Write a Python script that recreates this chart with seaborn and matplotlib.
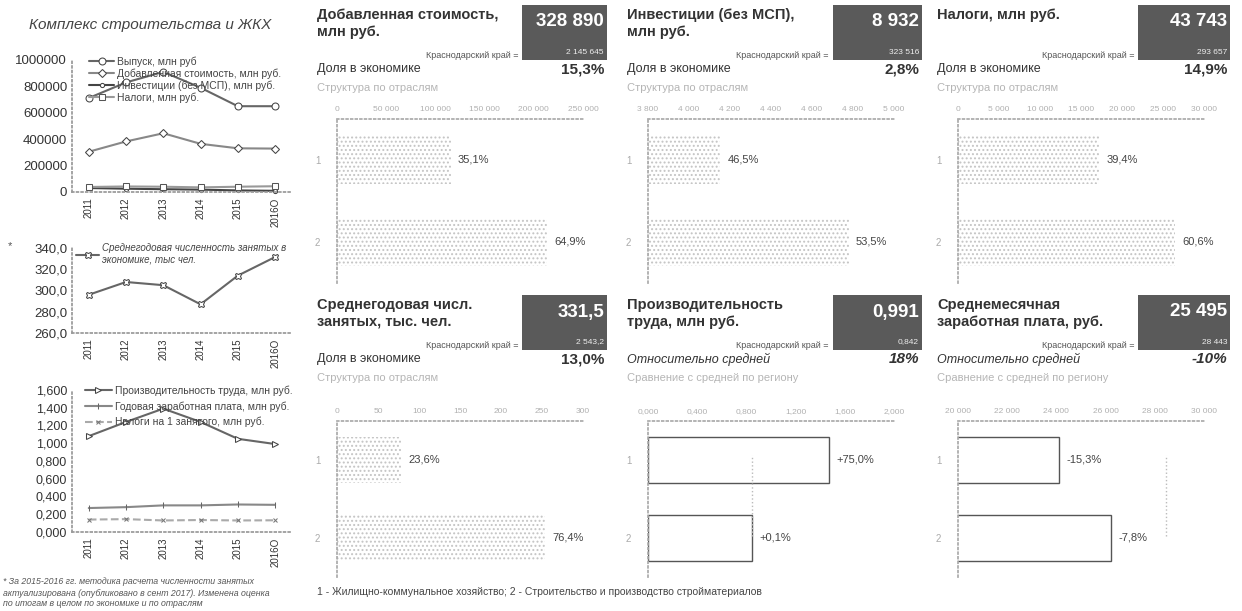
import matplotlib
matplotlib.use("Agg")
import matplotlib.pyplot as plt
import seaborn as sns
from matplotlib.patches import Rectangle
from matplotlib.ticker import FuncFormatter

sns.set_theme(style="white")
plt.rcParams["font.family"] = ["Liberation Sans", "DejaVu Sans"]
plt.rcParams["hatch.color"] = "#c4c4c4"
plt.rcParams["hatch.linewidth"] = 0.9

# ---- data ----
years = ["2011", "2012", "2013", "2014", "2015", "2016О"]

output_mln = [712000, 830000, 910000, 790000, 650000, 650000]
value_added_mln = [305000, 383000, 445000, 365000, 331000, 328890]
investments_mln = [30000, 25000, 21000, 18000, 12000, 8932]
taxes_mln = [38000, 42000, 40000, 35000, 40000, 43743]

employed_ths = [296.0, 308.0, 305.0, 287.0, 314.0, 331.5]

productivity = [1.08, 1.24, 1.39, 1.24, 1.05, 0.991]
annual_wage = [0.27, 0.28, 0.30, 0.30, 0.31, 0.306]
taxes_per_worker = [0.140, 0.145, 0.130, 0.135, 0.130, 0.132]

panel_titles = ["Добавленная стоимость,\nмлн руб.", "Инвестиции (без МСП),\nмлн руб.",
                "Налоги, млн руб.", "Среднегодовая числ.\nзанятых, тыс. чел.",
                "Производительность\nтруда, млн руб.", "Среднемесячная\nзаработная плата, руб."]
big_values = ["328 890", "8 932", "43 743", "331,5", "0,991", "25 495"]
region_values = ["2 145 645", "323 516", "293 657", "2 543,2", "0,842", "28 443"]
headline_labels = ["Доля в экономике", "Доля в экономике", "Доля в экономике",
                   "Доля в экономике", "Относительно средней", "Относительно средней"]
headline_values = ["15,3%", "2,8%", "14,9%", "13,0%", "18%", "-10%"]
sub_labels = ["Структура по отраслям", "Структура по отраслям", "Структура по отраслям",
              "Структура по отраслям", "Сравнение с средней по региону",
              "Сравнение с средней по региону"]

branches = ["1", "2"]
share_totals = [328890, 8932, 43743, 331.5]
shares = [[35.1, 64.9], [46.5, 53.5], [39.4, 60.6], [23.6, 76.4]]
region_avg = [0.842, 28443]
relative = [[75.0, 0.1], [-15.3, -7.8]]

# ---- layout helpers (pixel coordinates) ----
W, H = 1242, 611
fig = plt.figure(figsize=(W / 100, H / 100), dpi=100)


def rect(x, y, w, h):
    return [x / W, 1 - (y + h) / H, w / W, h / H]


def ftext(x, y, s, **kw):
    fig.text(x / W, 1 - y / H, s, **kw)


def style_left(ax):
    sns.despine(ax=ax)
    for side in ["left", "bottom"]:
        ax.spines[side].set_linestyle(":")
        ax.spines[side].set_color("#999999")
    ax.tick_params(axis="both", length=0, colors="#333333")
    ax.tick_params(axis="x", rotation=90, labelsize=7, pad=4)
    ax.set_xlim(-0.45, 5.4)
    ax.set_xlabel("")
    ax.set_ylabel("")


# ---- left column ----
ftext(150, 25, "Комплекс строительства и ЖКХ", fontsize=11, style="italic",
      color="#444444", ha="center", va="center")

ax1 = fig.add_axes(rect(72, 60, 218, 132))
sns.lineplot(x=years, y=output_mln, ax=ax1, color="#666666", marker="o", markersize=5,
             markerfacecolor="white", markeredgecolor="#444444", label="Выпуск, млн руб", clip_on=False)
sns.lineplot(x=years, y=value_added_mln, ax=ax1, color="#888888", marker="D", markersize=4.5,
             markerfacecolor="white", markeredgecolor="#444444",
             label="Добавленная стоимость, млн руб.", clip_on=False)
sns.lineplot(x=years, y=investments_mln, ax=ax1, color="#444444", marker="o", markersize=3,
             markerfacecolor="white", markeredgecolor="#444444",
             label="Инвестиции (без МСП), млн руб.", clip_on=False)
sns.lineplot(x=years, y=taxes_mln, ax=ax1, color="#999999", marker="s", markersize=4.5,
             markerfacecolor="white", markeredgecolor="#555555", label="Налоги, млн руб.", clip_on=False)
ax1.set_ylim(0, 1000000)
ax1.set_yticks([0, 200000, 400000, 600000, 800000, 1000000])
ax1.yaxis.set_major_formatter(FuncFormatter(lambda v, p: f"{v:.0f}"))
ax1.tick_params(axis="y", labelsize=9.5)
style_left(ax1)
ax1.legend(loc="upper left", bbox_to_anchor=(0.06, 1.06), frameon=False, fontsize=7.5,
           handlelength=2.4, labelspacing=0.15, handletextpad=0.3, borderaxespad=0,
           labelcolor="#444444")

ftext(8, 246, "*", fontsize=8, color="#555555", va="center")
ax2 = fig.add_axes(rect(72, 248, 218, 85))
sns.lineplot(x=years, y=employed_ths, ax=ax2, color="#666666", marker="X", markersize=5,
             markerfacecolor="white", markeredgecolor="#444444",
             label="Среднегодовая численность занятых в\nэкономике, тыс чел.", clip_on=False)
ax2.set_ylim(260, 340)
ax2.set_yticks([260, 280, 300, 320, 340])
ax2.yaxis.set_major_formatter(FuncFormatter(lambda v, p: f"{v:.1f}".replace(".", ",")))
ax2.tick_params(axis="y", labelsize=9.5)
style_left(ax2)
leg2 = ax2.legend(loc="upper left", bbox_to_anchor=(0.0, 1.1), frameon=False, fontsize=7,
                  handlelength=2.4, handletextpad=0.3, borderaxespad=0, labelcolor="#444444")
for t in leg2.get_texts():
    t.set_style("italic")

ax3 = fig.add_axes(rect(72, 390, 218, 142))
sns.lineplot(x=years, y=productivity, ax=ax3, color="#666666", marker=">", markersize=4,
             markerfacecolor="white", markeredgecolor="#444444",
             label="Производительность труда, млн руб.", clip_on=False)
sns.lineplot(x=years, y=annual_wage, ax=ax3, color="#888888", marker="|", markersize=4,
             markeredgecolor="#666666", label="Годовая заработная плата, млн руб.", clip_on=False)
sns.lineplot(x=years, y=taxes_per_worker, ax=ax3, color="#aaaaaa", marker="x", markersize=3,
             linestyle="--", markeredgecolor="#777777",
             label="Налоги на 1 занятого, млн руб.", clip_on=False)
ax3.set_ylim(0, 1.6)
ax3.set_yticks([0, 0.2, 0.4, 0.6, 0.8, 1.0, 1.2, 1.4, 1.6])
ax3.yaxis.set_major_formatter(FuncFormatter(lambda v, p: f"{v:.3f}".replace(".", ",")))
ax3.tick_params(axis="y", labelsize=9)
style_left(ax3)
ax3.legend(loc="upper left", bbox_to_anchor=(0.04, 1.06), frameon=False, fontsize=7.5,
           handlelength=2.6, labelspacing=0.5, handletextpad=0.3, borderaxespad=0,
           labelcolor="#444444")

footnote = ["* За 2015-2016 гг. методика расчета численности занятых",
            "актуализирована (опубликовано в сент 2017). Изменена оценка",
            "по итогам в целом по экономике и по отраслям"]
for i, line in enumerate(footnote):
    ftext(3, 582 + i * 11, line, fontsize=6.3, style="italic", color="#555555", va="center")

# ---- right panels ----
title_x = [317, 627, 937]
box_x = [(522, 607), (833, 922), (1138, 1230)]
axes_left = [337, 648, 958]
row_top = [0, 290]
axes_rows = [(119, 164), (421, 156)]

xlims = [(0, 250000), (3800, 5000), (0, 30000), (0, 300), (0, 2.0), (20000, 30000)]
xticks = [range(0, 250001, 50000), range(3800, 5001, 200), range(0, 30001, 5000),
          range(0, 301, 50), [0, 0.4, 0.8, 1.2, 1.6, 2.0], range(20000, 30001, 2000)]

for k in range(6):
    row, col = divmod(k, 3)
    y0 = row_top[row]
    tx = title_x[col]
    bx0, bx1 = box_x[col]

    ftext(tx, y0 + 8, panel_titles[k], fontsize=10.5, fontweight="bold", color="#333333",
          va="top", linespacing=1.25)
    fig.add_artist(Rectangle((bx0 / W, 1 - (y0 + 60) / H), (bx1 - bx0) / W, 55 / H,
                             transform=fig.transFigure, facecolor="#5a5a5a", edgecolor="none"))
    ftext(bx1 - 3, y0 + 22, big_values[k], fontsize=13.5, fontweight="bold", color="white",
          ha="right", va="center")
    ftext(bx1 - 3, y0 + 52, region_values[k], fontsize=6, color="#eeeeee", ha="right", va="center")
    ftext(bx0 - 4, y0 + 56, "Краснодарский край =", fontsize=6.5, color="#555555",
          ha="right", va="center")
    ftext(tx, y0 + 69, headline_labels[k], fontsize=9, color="#333333", va="center",
          style="italic" if k >= 4 else "normal")
    ftext(bx1 - 3, y0 + 69, headline_values[k], fontsize=11, fontweight="bold",
          color="#333333", ha="right", va="center", style="italic" if k >= 4 else "normal")
    ftext(tx, y0 + 88, sub_labels[k], fontsize=8, color="#b5b5b5", va="center")

    ay, ah = axes_rows[row]
    ax = fig.add_axes(rect(axes_left[col], ay, 246, ah))
    if k < 4:
        vals = [share_totals[k] * s / 100 for s in shares[k]]
        labels = [f"{s:.1f}%".replace(".", ",") for s in shares[k]]
        sns.barplot(x=vals, y=branches, orient="h", ax=ax, width=0.58, color="white",
                    edgecolor="#c4c4c4", linewidth=0, hatch="....")
    else:
        avg = region_avg[k - 4]
        vals = [avg * (1 + r / 100) for r in relative[k - 4]]
        labels = [f"{r:+.1f}%".replace(".", ",") for r in relative[k - 4]]
        sns.barplot(x=vals, y=branches, orient="h", ax=ax, width=0.6, color="white",
                    edgecolor="#555555", linewidth=1.0)
        ax.axvline(avg, ymin=0.26, ymax=0.78, color="#bbbbbb", linestyle=":", linewidth=1)

    lo, hi = xlims[k]
    ax.set_xlim(lo, hi)
    ax.set_ylim(1.5, -0.5)
    ax.set_xticks(list(xticks[k]))
    if k == 4:
        ax.xaxis.set_major_formatter(FuncFormatter(lambda v, p: f"{v:.3f}".replace(".", ",")))
    else:
        ax.xaxis.set_major_formatter(FuncFormatter(lambda v, p: f"{v:,.0f}".replace(",", " ")))
    for i, (v, lab) in enumerate(zip(vals, labels)):
        ax.text(v + (hi - lo) * 0.03, i, lab, va="center", ha="left", fontsize=8, color="#444444")

    ax.xaxis.tick_top()
    ax.tick_params(axis="x", length=0, labelsize=6, colors="#b0b0b0", pad=4)
    ax.tick_params(axis="y", length=0, labelsize=7, colors="#aaaaaa", pad=12)
    ax.set_xlabel("")
    ax.set_ylabel("")
    for side in ["right", "bottom"]:
        ax.spines[side].set_visible(False)
    for side in ["top", "left"]:
        ax.spines[side].set_linestyle(":")
        ax.spines[side].set_color("#aaaaaa")
    ax.set_facecolor("none")

ftext(317, 592, "1 - Жилищно-коммунальное хозяйство; 2 - Строительство и производство стройматериалов",
      fontsize=7.5, color="#444444", va="center")

fig.savefig("out.png", dpi=100)
